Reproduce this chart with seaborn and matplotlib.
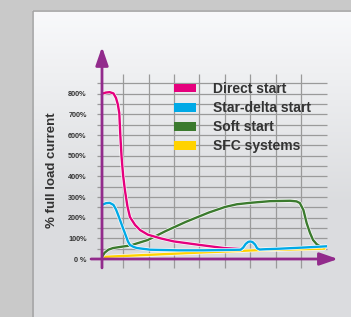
import numpy as np
import pandas as pd
import matplotlib
matplotlib.use("Agg")
import matplotlib.pyplot as plt
import matplotlib.patheffects as pe
from matplotlib.patches import Patch, FancyArrowPatch
import seaborn as sns

sns.set_style("white")
plt.rcParams['font.family'] = ['Liberation Sans', 'DejaVu Sans']

# ---- data (x in grid units from the y-axis, y in % of full load current) ----
direct_x = [0, 0.15, 0.3, 0.45, 0.55, 0.62, 0.68, 0.72, 0.77, 0.83, 0.9, 1.0, 1.1, 1.3, 1.5, 1.8, 2.3, 2.83, 3.85, 4.8, 5.5]
direct_y = [800, 806, 808, 802, 780, 750, 707, 600, 494, 405, 334, 255, 203, 165, 140, 118, 100, 85, 68, 53, 48]

star_x = [0, 0.15, 0.3, 0.45, 0.55, 0.63, 0.75, 0.9, 1.02, 1.1, 1.25, 1.38, 1.9, 3.0, 4.0, 5.0, 5.45, 5.55, 5.65, 5.75, 5.83, 5.92, 6.02, 6.1, 6.2, 6.35, 7.0, 8.0, 8.9]
star_y = [262, 270, 272, 262, 240, 215, 175, 125, 85, 68, 58, 53, 45, 42, 42, 44, 45, 55, 73, 83, 85, 82, 70, 52, 46, 47, 50, 56, 62]

soft_x = [0, 0.1, 0.25, 0.43, 0.8, 1.1, 1.8, 2.5, 3.3, 4.2, 4.84, 5.3, 5.82, 6.6, 7.4, 7.65, 7.78, 7.92, 8.05, 8.18, 8.3, 8.44, 8.57, 8.65]
soft_y = [10, 30, 45, 53, 60, 65, 92, 135, 180, 225, 252, 265, 272, 280, 282, 279, 271, 237, 173, 126, 92, 72, 62, 60]

sfc_x = [0, 2, 4, 6, 8.75]
sfc_y = [10, 21, 32, 42, 50]

series = ["Direct start", "Star-delta start", "Soft start", "SFC systems"]
colors = ["#E5007D", "#00A9E6", "#3B7A2E", "#FFD200"]

y_ticks = [0, 100, 200, 300, 400, 500, 600, 700, 800]
y_labels = ["0 %", "100%", "200%", "300%", "400%", "500%", "600%", "700%", "800%"]
grid_x = [0.83, 1.83, 2.83, 3.83, 4.83, 5.83, 6.83, 7.83]
grid_y = list(range(50, 900, 50))

W, H = 351, 317
fig = plt.figure(figsize=(W / 100, H / 100), dpi=100)
fig.patch.set_facecolor("#c9c9c9")

# background panel with gradient
bg = fig.add_axes([0, 0, 1, 1])
bg.set_xlim(0, W)
bg.set_ylim(H, 0)
bg.axis("off")
grad = np.linspace(0, 1, 256).reshape(-1, 1)
top_c = np.array([0.975, 0.978, 0.985])
bot_c = np.array([0.86, 0.865, 0.875])
img = top_c + (bot_c - top_c) * np.clip(grad * 1.6, 0, 1)[..., None].reshape(256, 1, 1) * 1.0
img = np.repeat(img, 2, axis=1)
bg.imshow(img, extent=[32, W, H, 10], aspect="auto", zorder=0)
bg.plot([32.5, 32.5, W], [H, 10.5, 10.5], color="#a3a3a3", lw=1.2, zorder=1)

# main axes
ax = fig.add_axes([102 / W, 58 / H, 225 / W, 185 / H])
ax.patch.set_alpha(0)
ax.set_xlim(0, 225 / 25.43)
ax.set_ylim(0, 185 / 0.2065)
for s in ax.spines.values():
    s.set_visible(False)
ax.set_xticks([])
ax.set_yticks(y_ticks)
ax.set_yticklabels(y_labels)
ax.tick_params(axis="y", length=0, pad=11, labelsize=5.2, labelcolor="#333333")
for t in ax.get_yticklabels():
    t.set_fontweight("bold")

# grid
ax.hlines(grid_y, -0.2, 8.85, color="#9a9a9a", lw=0.9, zorder=1, clip_on=False)
ax.vlines(grid_x, -43, 896, color="#9a9a9a", lw=0.9, zorder=1, clip_on=False)

# curves
frames = []
for name, xs, ys in [("SFC systems", sfc_x, sfc_y), ("Soft start", soft_x, soft_y),
                     ("Direct start", direct_x, direct_y), ("Star-delta start", star_x, star_y)]:
    frames.append(pd.DataFrame({"t": xs, "current": ys, "series": name}))
df = pd.concat(frames, ignore_index=True)
palette = dict(zip(series, colors))
order = ["SFC systems", "Soft start", "Direct start", "Star-delta start"]
for name in order:
    sub = df[df["series"] == name]
    sns.lineplot(data=sub, x="t", y="current", color=palette[name], lw=1.7,
                 ax=ax, sort=False, legend=False, zorder=5,
                 path_effects=[pe.Stroke(linewidth=2.6, foreground="white"), pe.Normal()])
ax.set_xlabel("")
ax.set_ylabel("")

# axes arrows
purple = "#922B8C"
ya = FancyArrowPatch((0, -43), (0, 1027), arrowstyle="-|>,head_length=1.1,head_width=0.38",
                     mutation_scale=10, color=purple, lw=2.0, clip_on=False, zorder=6,
                     shrinkA=0, shrinkB=0)
xa = FancyArrowPatch((-0.43, 0), (9.28, 0), arrowstyle="-|>,head_length=1.1,head_width=0.38",
                     mutation_scale=10, color=purple, lw=2.0, clip_on=False, zorder=6,
                     shrinkA=0, shrinkB=0)
ax.add_patch(ya)
ax.add_patch(xa)

# legend
handles = [Patch(facecolor=c, edgecolor="none", label=n) for n, c in zip(series, colors)]
leg = ax.legend(handles=handles, loc="upper left", bbox_to_anchor=(2.83 / 8.848, 1 - 8 / 185),
                frameon=False, fontsize=10, handlelength=1.6, handleheight=0.58,
                handletextpad=1.22, labelspacing=0.37, borderpad=0, borderaxespad=0)
for t in leg.get_texts():
    t.set_fontweight("bold")
    t.set_color("#333333")

fig.text(52 / W, 1 - 170 / H, "% full load current", rotation=90, ha="center", va="center",
         fontsize=9.5, fontweight="bold", color="#333333")

fig.savefig("out.png", dpi=100)
